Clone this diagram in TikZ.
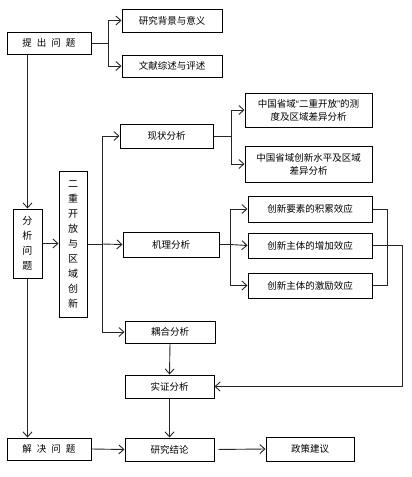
\documentclass[tikz,border=0pt]{standalone}
\usepackage{fontspec}
\setmainfont{Noto Sans CJK SC}
\newfontfamily\latinq{Liberation Sans}
\usetikzlibrary{arrows.meta}
\begin{document}
\begin{tikzpicture}[x=1pt,y=-1pt,
  box/.style={draw=black,line width=1pt,inner sep=0pt,align=center,
    font=\fontsize{9.5}{13}\selectfont},
  vbox/.style={draw=black,line width=1pt,inner sep=0pt,align=center,
    font=\fontsize{10}{15}\selectfont},
  conn/.style={line width=0.9pt,draw=black!85},
  arr/.style={conn,-{Straight Barb[length=5pt,width=9pt,line width=0.9pt]}}
]
\useasboundingbox (0,0) rectangle (412,477);
% boxes
\node[box,minimum width=84pt,minimum height=22pt] (tc) at (49,43) {提\hspace{5pt}出\hspace{5pt}问\hspace{5pt}题};
\node[box,minimum width=100pt,minimum height=23pt] (bg) at (172,20.5) {研究背景与意义};
\node[box,minimum width=100pt,minimum height=22pt] (wx) at (172,66) {文献综述与评述};
\node[vbox,minimum width=29pt,minimum height=69pt] (fx) at (27.5,243.5) {分\\析\\问\\题};
\node[vbox,minimum width=28pt,minimum height=146pt] (ec) at (73,244) {二\\重\\开\\放\\与\\区\\域\\创\\新};
\node[box,minimum width=93pt,minimum height=24pt] (xz) at (166.5,136) {现状分析};
\node[box,minimum width=127pt,minimum height=34pt] (cd) at (308.5,110) {中国省域{\latinq“}二重开放{\latinq”}的测\\度及区域差异分析};
\node[box,minimum width=127pt,minimum height=36pt] (cx) at (308.5,164) {中国省域创新水平及区域\\差异分析};
\node[box,minimum width=96pt,minimum height=25pt] (jl) at (171,244.5) {机理分析};
\node[box,minimum width=124pt,minimum height=26pt] (e1) at (310,209) {创新要素的积累效应};
\node[box,minimum width=124pt,minimum height=25pt] (e2) at (310,245.5) {创新主体的增加效应};
\node[box,minimum width=124pt,minimum height=25pt] (e3) at (310,285.5) {创新主体的激励效应};
\node[box,minimum width=90pt,minimum height=22pt] (oh) at (170,332) {耦合分析};
\node[box,minimum width=89pt,minimum height=23pt] (sz) at (169.5,386.5) {实证分析};
\node[box,minimum width=84pt,minimum height=22pt] (jj) at (49,449) {解\hspace{5pt}决\hspace{5pt}问\hspace{5pt}题};
\node[box,minimum width=89pt,minimum height=23pt] (yj) at (169.5,449.5) {研究结论};
\node[box,minimum width=88pt,minimum height=24pt] (zc) at (310,449) {政策建议};
% junctions
\coordinate (j1) at (108,43);
\coordinate (j2) at (102,244);
\coordinate (j3) at (231,136);
\coordinate (j4) at (230,244.5);
\coordinate (k1) at (387,209);
\coordinate (k2) at (402,245.5);
% connectors
\draw[conn] (tc.east) -- (j1);
\draw[arr] (j1) |- (bg.west);
\draw[arr] (j1) |- (wx.west);
\draw[arr] (fx.north |- tc.south) -- (fx.north);
\draw[arr] (fx.south) -- (fx.south |- jj.north);
\draw[arr] (fx.east) -- (ec.west |- fx.east);
\draw[conn] (ec.east) -- (j2);
\draw[arr] (j2) |- (xz.west);
\draw[arr] (j2) -- (jl.west);
\draw[arr] (j2) |- (oh.west);
\draw[conn] (xz.east) -- (j3);
\draw[arr] (j3) |- (cd.west);
\draw[arr] (j3) |- (cx.west);
\draw[conn] (jl.east) -- (j4);
\draw[arr] (j4) |- (e1.west);
\draw[arr] (j4) -- (e2.west);
\draw[arr] (j4) |- (e3.west);
\draw[conn] (e1.east) -- (k1) |- (e3.east);
\draw[arr] (e2.east) -- (k2) |- (sz.east);
\draw[arr] (oh.south) -- (sz.north);
\draw[arr] (sz.south) -- (yj.north);
\draw[arr] (jj.east) -- (yj.west);
\draw[arr,shorten <=4pt] (yj.east) -- (zc.west);
\end{tikzpicture}
\end{document}
